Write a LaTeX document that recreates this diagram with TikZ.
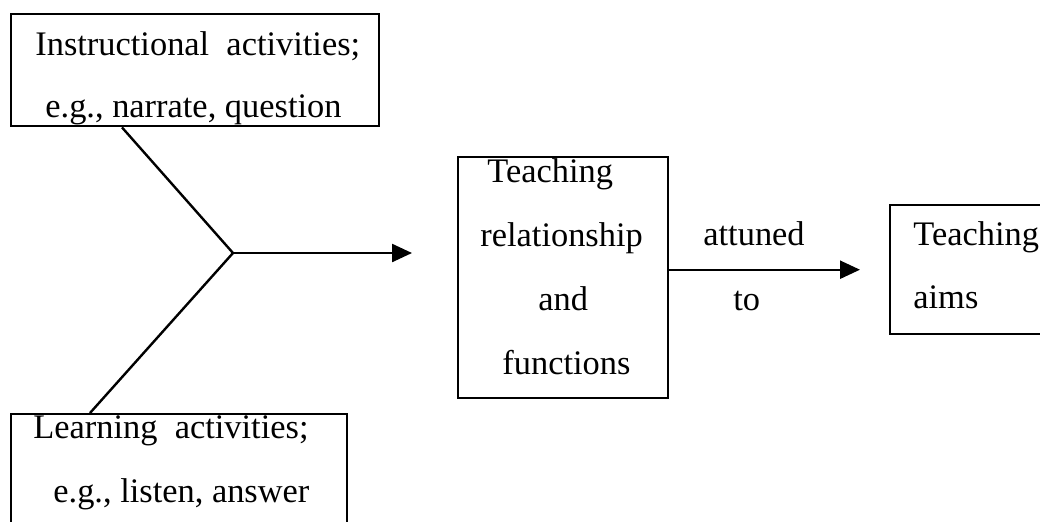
\documentclass[tikz,border=0pt]{standalone}
\usepackage{fontspec}
\setmainfont{Liberation Serif}
\usetikzlibrary{arrows.meta}

\begin{document}
\begin{tikzpicture}[x=0.5pt,y=-0.5pt,
  box/.style={draw,line width=1.2pt,inner sep=0pt,anchor=north west},
  txt/.style={inner sep=0pt,anchor=base west,font=\fontsize{17.2}{20}\selectfont},
  arr/.style={line width=1.2pt,-{Triangle[length=10pt,width=9pt]}}]
\clip (0,0) rectangle (1040,521);
%\draw[help lines] (0,0) grid[step=50] (1040,521);
\node[box,minimum width=184pt,minimum height=56pt] (instr) at (10,13) {};
\node[box,minimum width=168pt,minimum height=70pt] (learn) at (10,413) {};
\node[box,minimum width=105pt,minimum height=120.5pt] (rel) at (457,156) {};
\node[box,minimum width=90pt,minimum height=64.5pt] (aims) at (889,204) {};

\coordinate (join) at (233,253);
\coordinate (out) at (412,253);
\draw[line width=1.2pt] ([xshift=56pt]instr.south west) -- (join) -- ([xshift=40pt]learn.north west);
\draw[arr] (join) -- (out);
\draw[arr] (rel.east |- aims.west) -- ([xshift=-14.5pt]aims.west);

\foreach \x/\y/\t/\n in {35/55/{Instructional\ \ activities;}/instra, 45/117/{e.g., narrate, question}/instrb,
  33/438/{Learning\ \ activities;}/learna, 53/502/{e.g., listen, answer}/learnb,
  487/182/Teaching/rela, 480/246/relationship/relb, 538/310/and/relc, 502/374/functions/reld,
  703/245/attuned/labela, 733/310/to/labelb, 913/245/Teaching/aimsa, 913/308/aims/aimsb}
  \node[txt] (\n) at (\x,\y) {\t};
\end{tikzpicture}
\end{document}
